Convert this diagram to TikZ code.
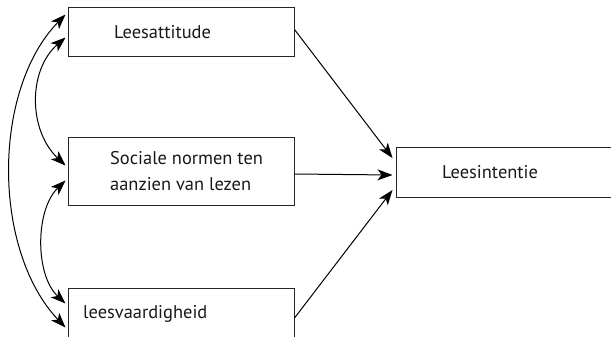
\documentclass[tikz,border=0pt]{standalone}
\usepackage{fontspec}
\setmainfont{PT Sans}
\usetikzlibrary{arrows.meta,calc}
\begin{document}
\begin{tikzpicture}[x=1bp,y=-1bp,
  box/.style={draw=black!85,line width=1bp,rectangle,inner sep=0pt},
  lbl/.style={anchor=west,inner sep=0pt,font=\fontsize{18.5}{27}\selectfont,align=left,text=black!90},
  arr/.style={line width=1bp,-{Stealth[length=15bp,width=11bp,inset=4bp]}},
  darr/.style={line width=1bp,{Stealth[length=15bp,width=11bp,inset=4bp]}-{Stealth[length=15bp,width=11bp,inset=4bp]}}]
\useasboundingbox (0,0) rectangle (611,336);
\clip (0,0) rectangle (611,336);
\node[box,minimum width=225bp,minimum height=49bp] (b1) at (181.5,31.5) {};
\node[box,minimum width=225bp,minimum height=68bp] (b2) at (181.5,171) {};
\node[box,minimum width=225bp,minimum height=60bp] (b3) at (181.5,318) {};
\node[box,minimum width=230bp,minimum height=50bp] (b4) at (511,172) {};
\node[lbl] (t1) at (114,32) {Leesattitude};
\node[lbl] (t2) at (110,171) {Sociale normen ten\\aanzien van lezen};
\node[lbl] (t3) at (83,314) {leesvaardigheid};
\node[lbl] (t4) at (442,172) {Leesintentie};
\draw[arr] ([shift={(0,-2)}]b1.east) -- ([shift={(-3,-14)}]b4.west);
\draw[arr] ([shift={(0,3)}]b2.east) -- ([shift={(-3,3)}]b4.west);
\draw[arr] (b3.east) -- ([shift={(-3,18)}]b4.west);
\draw[darr] ([shift={(-3,8)}]b1.north west) .. controls (-8,90) and (-8,250) .. ([shift={(-3,40)}]b3.north west);
\draw[darr] ([shift={(-3,31)}]b1.north west) .. controls (28,70) and (28,130) .. ([shift={(-3,29)}]b2.north west);
\draw[darr] ([shift={(-3,44)}]b2.north west) .. controls (35,210) and (35,275) .. ([shift={(-3,16)}]b3.north west);
\end{tikzpicture}
\end{document}
